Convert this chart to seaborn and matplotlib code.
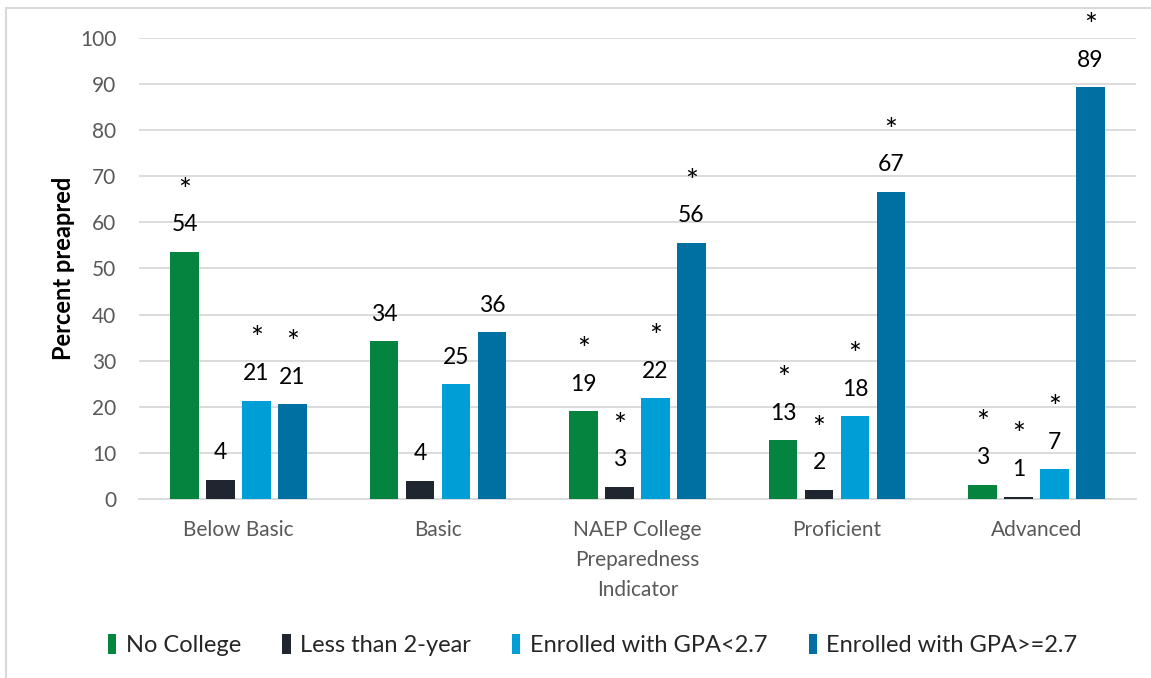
import matplotlib
matplotlib.use("Agg")
import matplotlib.pyplot as plt
import seaborn as sns
import pandas as pd
from matplotlib.patches import Patch
from matplotlib.lines import Line2D

categories = ["Below Basic", "Basic", "NAEP College\nPreparedness\nIndicator", "Proficient", "Advanced"]
series = ["No College", "Less than 2-year", "Enrolled with GPA<2.7", "Enrolled with GPA>=2.7"]
no_college = [53.6, 34.2, 19.1, 12.8, 3.2]
less_2yr = [4.2, 4.0, 2.7, 2.0, 0.6]
gpa_low = [21.4, 24.9, 21.9, 18.0, 6.5]
gpa_high = [20.6, 36.2, 55.6, 66.6, 89.3]
star_no_college = [True, False, True, True, True]
star_less_2yr = [False, False, True, True, True]
star_gpa_low = [True, False, True, True, True]
star_gpa_high = [True, False, True, True, True]
colors = ["#05843F", "#1F2630", "#009ED6", "#006FA1"]
yticks = [0, 10, 20, 30, 40, 50, 60, 70, 80, 90, 100]

values = [no_college, less_2yr, gpa_low, gpa_high]
stars = [star_no_college, star_less_2yr, star_gpa_low, star_gpa_high]
rows = []
for s, vals, sts in zip(series, values, stars):
    for c, v, st in zip(categories, vals, sts):
        rows.append({"cat": c, "series": s, "value": v, "star": st})
df = pd.DataFrame(rows)

sns.set_theme(style="white")
plt.rcParams["font.family"] = ["Lato", "DejaVu Sans"]

W, H = 1151, 678
fig = plt.figure(figsize=(W / 100, H / 100), dpi=100)
ax = fig.add_axes([138.75 / W, 1 - 499.3 / H, (1136.25 - 138.75) / W, (499.3 - 37.7) / H])

sns.barplot(data=df, x="cat", y="value", hue="series", order=categories,
            hue_order=series, palette=colors, width=0.72, gap=0.2,
            linewidth=0, saturation=1, ax=ax, legend=False)

ax.set_ylim(0, 100)
ax.set_xlim(-0.5, 4.5)
ax.set_yticks(yticks)
ax.yaxis.grid(True, color="#D9D9D9", linewidth=1.3)
ax.set_axisbelow(True)
for sp in ["top", "right", "left"]:
    ax.spines[sp].set_visible(False)
ax.spines["bottom"].set_color("#D9D9D9")
ax.spines["bottom"].set_linewidth(1.3)
ax.spines["bottom"].set_zorder(0.5)
ax.tick_params(axis="both", length=0, colors="#595959", labelsize=15)
ax.tick_params(axis="x", pad=15)
ax.tick_params(axis="y", pad=16)
for lab in ax.get_xticklabels():
    lab.set_linespacing(1.62)
ax.set_xlabel("")
ax.set_ylabel("Percent preapred", fontsize=17, fontweight="bold", color="black", labelpad=4)

for container, s in zip(ax.containers, series):
    sub = df[df["series"] == s].set_index("cat").loc[categories]
    for bar, (_, r) in zip(container, sub.iterrows()):
        x = bar.get_x() + bar.get_width() / 2
        h = bar.get_height()
        ax.annotate(f"{int(r['value'] + 0.5)}", (x, h), xytext=(0, 19.5),
                    textcoords="offset points", ha="center", va="center",
                    fontsize=16.5, color="black")
        if r["star"]:
            ax.annotate("*", (x, h), xytext=(0, 44),
                        textcoords="offset points", ha="center", va="center",
                        fontsize=22, color="black")

handles = [Patch(facecolor=c, edgecolor="none") for c in colors]
fig.legend(handles, series, loc="center", bbox_to_anchor=(0.515, 1 - 645 / H),
           ncol=4, frameon=False, fontsize=17, handlelength=0.35, handleheight=0.9,
           handletextpad=0.4, columnspacing=1.75)

# figure border (left and top)
fig.add_artist(Line2D([6 / W, 6 / W], [0, 1 - 8 / H], transform=fig.transFigure,
                      color="#D9D9D9", linewidth=1.5))
fig.add_artist(Line2D([6 / W, 1], [1 - 8 / H, 1 - 8 / H], transform=fig.transFigure,
                      color="#D9D9D9", linewidth=1.5))

fig.savefig("out.png", dpi=100)
